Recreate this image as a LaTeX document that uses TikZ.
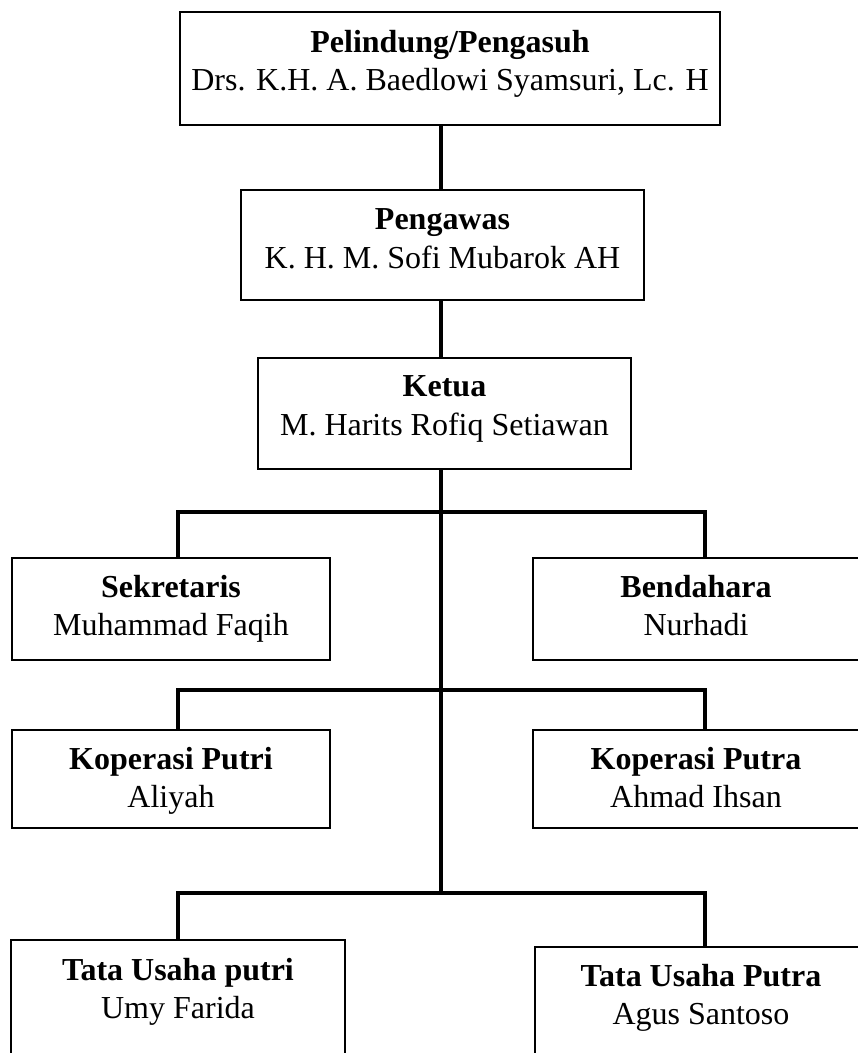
\documentclass[tikz,border=0pt]{standalone}
\usepackage{fontspec}
\setmainfont{Liberation Serif}
\begin{document}
\begin{tikzpicture}[x=1pt,y=-1pt,
  box/.style={draw=black,line width=1.5pt,fill=white,rectangle,inner sep=0pt},
  conn/.style={draw=black,line width=3.4pt,line join=miter,line cap=rect},
  ttl/.style={anchor=base,inner sep=0pt,font=\fontsize{32}{38}\selectfont\bfseries},
  nm/.style={anchor=base,inner sep=0pt,font=\fontsize{32}{38}\selectfont}]
\useasboundingbox (0,0) rectangle (858,1053);
\clip (0,0) rectangle (858,1053);
% spine and branch columns
\coordinate (sp) at (441,0);
\coordinate (la) at (178,0);
\coordinate (ra) at (705,0);
\coordinate (j1) at (441,512);
\coordinate (j2) at (441,690);
\coordinate (j3) at (441,893);
% boxes
\node[box,minimum width=540pt,minimum height=113pt] (top) at (450,68.5) {};
\node[box,minimum width=403pt,minimum height=110pt] (peng) at (442.5,245) {};
\node[box,minimum width=373pt,minimum height=111pt] (ketua) at (444.5,413.5) {};
\node[box,minimum width=318pt,minimum height=102pt] (sek) at (171,609) {};
\node[box,minimum width=327pt,minimum height=102pt] (bend) at (696.5,609) {};
\node[box,minimum width=318pt,minimum height=98pt] (kpi) at (171,779) {};
\node[box,minimum width=327pt,minimum height=98pt] (kpa) at (696.5,779) {};
\node[box,minimum width=334pt,minimum height=160pt] (tui) at (178,1020) {};
\node[box,minimum width=332pt,minimum height=160pt] (tua) at (701,1027) {};
% connectors
\draw[conn] (top.south -| sp) -- (peng.north -| sp);
\draw[conn] (peng.south -| sp) -- (ketua.north -| sp);
\draw[conn] (ketua.south -| sp) -- (j3);
\draw[conn] (sek.north -| la) |- (j1) -| (bend.north -| ra);
\draw[conn] (kpi.north -| la) |- (j2) -| (kpa.north -| ra);
\draw[conn] (tui.north -| la) |- (j3) -| (tua.north -| ra);
% texts
\node[ttl] (topT) at (450,52) {Pelindung/Pengasuh};
\node[nm]  (topN) at (450,90) {Drs. K.H. A. Baedlowi Syamsuri, Lc. H};
\node[ttl] (pengT) at (442.5,229) {Pengawas};
\node[nm]  (pengN) at (442.5,268) {K. H. M. Sofi Mubarok AH};
\node[ttl] (ketuaT) at (444.5,396) {Ketua};
\node[nm]  (ketuaN) at (444.5,435) {M. Harits Rofiq Setiawan};
\node[ttl] (sekT) at (171,597) {Sekretaris};
\node[nm]  (sekN) at (171,635) {Muhammad Faqih};
\node[ttl] (bendT) at (696,597) {Bendahara};
\node[nm]  (bendN) at (696,635) {Nurhadi};
\node[ttl] (kpiT) at (171,769) {Koperasi Putri};
\node[nm]  (kpiN) at (171,807) {Aliyah};
\node[ttl] (kpaT) at (696,769) {Koperasi Putra};
\node[nm]  (kpaN) at (696,807) {Ahmad Ihsan};
\node[ttl] (tuiT) at (178,980) {Tata Usaha putri};
\node[nm]  (tuiN) at (178,1018) {Umy Farida};
\node[ttl] (tuaT) at (701,986) {Tata Usaha Putra};
\node[nm]  (tuaN) at (701,1024) {Agus Santoso};
\end{tikzpicture}
\end{document}
